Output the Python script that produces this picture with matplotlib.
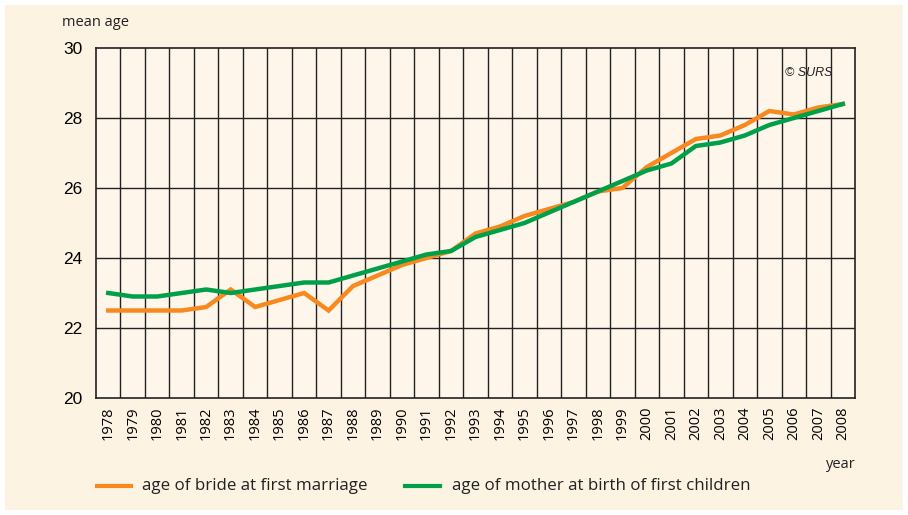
import matplotlib.pyplot as plt
from matplotlib.patches import Rectangle

plt.rcParams['font.family'] = ['Open Sans', 'DejaVu Sans']

years = list(range(1978, 2009))
bride = [22.5, 22.5, 22.5, 22.5, 22.6, 23.1, 22.6, 22.8, 23.0, 22.5,
         23.2, 23.5, 23.8, 24.0, 24.2, 24.7, 24.9, 25.2, 25.4, 25.6,
         25.9, 26.0, 26.6, 27.0, 27.4, 27.5, 27.8, 28.2, 28.1, 28.3, 28.4]
mother = [23.0, 22.9, 22.9, 23.0, 23.1, 23.0, 23.1, 23.2, 23.3, 23.3,
          23.5, 23.7, 23.9, 24.1, 24.2, 24.6, 24.8, 25.0, 25.3, 25.6,
          25.9, 26.2, 26.5, 26.7, 27.2, 27.3, 27.5, 27.8, 28.0, 28.2, 28.4]
yticks = [20, 22, 24, 26, 28, 30]

bg = '#FDF3E3'
orange = '#F7891F'
green = '#00A04A'

W, H = 908, 515
fig = plt.figure(figsize=(W / 100, H / 100), dpi=100, facecolor='white')
fig.patches.append(Rectangle((5 / W, 5 / H), 898 / W, 505 / H,
                             transform=fig.transFigure, facecolor=bg,
                             edgecolor='none', zorder=-10))

ax = fig.add_axes([96 / W, 1 - 398 / H, 759 / W, 350 / H])
ax.set_facecolor('#FEF6EA')

x = list(range(len(years)))
ax.plot(x, bride, color=orange, lw=3.2, solid_joinstyle='miter', zorder=3)
ax.plot(x, mother, color=green, lw=3.2, solid_joinstyle='miter', zorder=4)

ax.set_xlim(-0.5, len(years) - 0.5)
ax.set_ylim(20, 30)
ax.set_yticks(yticks)
ax.set_yticklabels([str(v) for v in yticks], fontsize=12.5,
                   family=['Liberation Sans', 'DejaVu Sans'])
ax.set_xticks(x)
ax.set_xticklabels([str(y) for y in years], rotation=90, fontsize=10.5)
ax.tick_params(length=0, pad=6)
ax.tick_params(axis='y', pad=10)

# grid lines sit between the year categories
for i in range(1, len(years)):
    ax.axvline(i - 0.5, color='#222222', lw=1, zorder=1)
for v in yticks[1:-1]:
    ax.axhline(v, color='#222222', lw=1, zorder=1)
for s in ax.spines.values():
    s.set_color('#222222')
    s.set_linewidth(1.2)

fig.text(62 / W, 1 - 22 / H, 'mean age', fontsize=10.5, va='center',
         color='#222222')
fig.text(826 / W, 1 - 465 / H, 'year', fontsize=10.5, va='center',
         color='#222222')
ax.text(0.97, 0.93, '© SURS', transform=ax.transAxes, fontsize=9,
        style='italic', ha='right', va='center', color='#222222',
        family=['Liberation Sans', 'DejaVu Sans'])

# legend along the bottom
ly = 1 - 486 / H
fig.add_artist(plt.Line2D([97 / W, 131 / W], [ly, ly], color=orange, lw=3))
fig.text(142 / W, ly, 'age of bride at first marriage', fontsize=12.2,
         va='center', color='#222222')
fig.add_artist(plt.Line2D([405 / W, 440 / W], [ly, ly], color=green, lw=3))
fig.text(452 / W, ly, 'age of mother at birth of first children',
         fontsize=12.2, va='center', color='#222222')

fig.savefig('out.png', dpi=100, facecolor='white')
